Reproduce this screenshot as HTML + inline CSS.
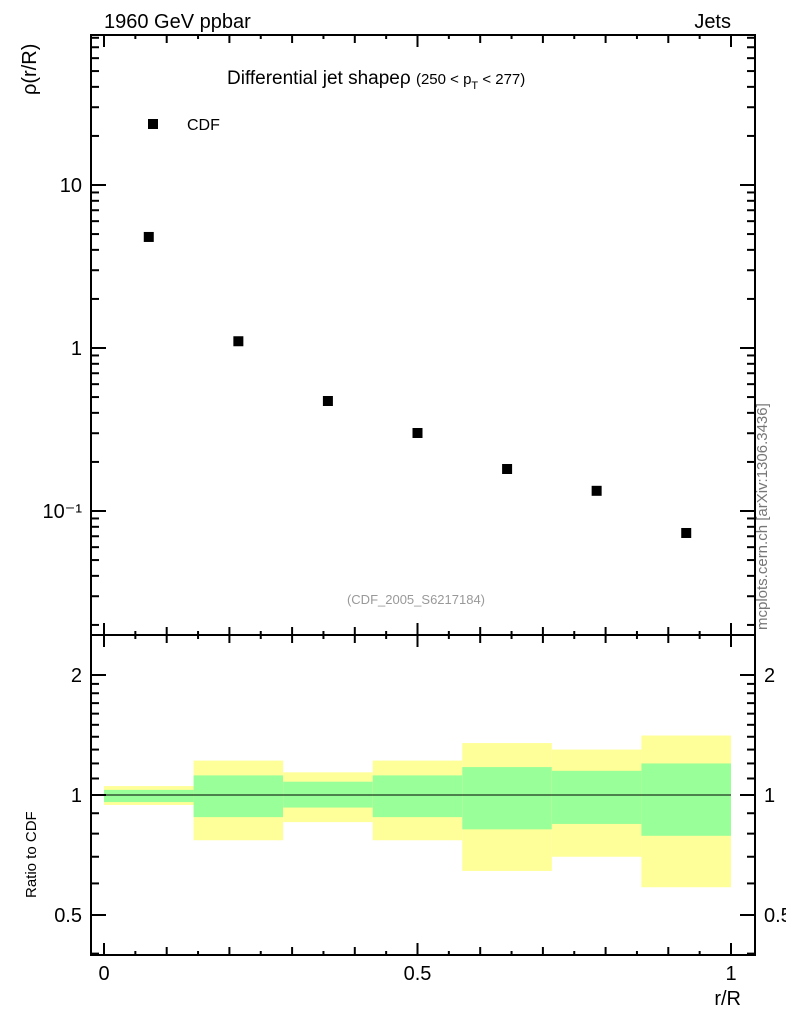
<!DOCTYPE html>
<html><head><meta charset="utf-8"><style>
body{margin:0;background:#fff;}
svg text{font-family:"Liberation Sans",sans-serif;}
</style></head><body>
<svg id="c" width="786" height="1024" xmlns="http://www.w3.org/2000/svg">
<text x="104" y="28" font-size="20">1960 GeV ppbar</text>
<text x="731" y="28" font-size="20" text-anchor="end">Jets</text>
<text x="227" y="84" font-size="19">Differential jet shapeρ <tspan font-size="15">(250 &lt; p</tspan><tspan font-size="11" dy="5">T</tspan><tspan font-size="15" dy="-5"> &lt; 277)</tspan></text>
<text x="416" y="604" font-size="13" fill="#999" text-anchor="middle">(CDF_2005_S6217184)</text>
<text transform="translate(767,630) rotate(-90)" font-size="15" fill="#777">mcplots.cern.ch [arXiv:1306.3436]</text>
<text transform="translate(36,95) rotate(-90)" font-size="20">ρ(r/R)</text>
<text transform="translate(36,898) rotate(-90)" font-size="15">Ratio to CDF</text>
<text x="741" y="1005" font-size="20" text-anchor="end">r/R</text>
<rect x="148" y="119" width="10" height="10" fill="#000"/>
<text x="187" y="130" font-size="16">CDF</text>
<g id="bands"></g><g id="pts"></g><g id="axes"></g>
</svg>
<script>
const xs=[0.0714,0.2143,0.3571,0.5,0.6429,0.7857,0.9286];
const rho=[4.8,1.10,0.473,0.301,0.181,0.133,0.0733];
const binEdges=[0,0.1429,0.2857,0.4286,0.5714,0.7143,0.8571,1];
const yelHi=[1.053,1.22,1.14,1.22,1.35,1.30,1.41];
const yelLo=[0.944,0.77,0.855,0.77,0.645,0.70,0.587];
const grnHi=[1.03,1.12,1.08,1.12,1.175,1.15,1.20];
const grnLo=[0.96,0.88,0.93,0.88,0.82,0.846,0.79];
const mainTicks=["10\u207B\u00B9","1","10"];
const ratioTicks=["0.5","1","2"];
const xTicks=["0","0.5","1"];
const NS="http://www.w3.org/2000/svg";
const X=v=>104+v*627;
const Y=v=>185-(Math.log10(v)-1)*163;
const R=v=>795-Math.log10(v)*398.6;
function mk(p,t,a){const e=document.createElementNS(NS,t);for(const k in a)e.setAttribute(k,a[k]);document.getElementById(p).appendChild(e);return e;}
for(let i=0;i<xs.length;i++){
 let e=mk('bands','rect',{x:X(binEdges[i]),y:R(yelHi[i]),width:X(binEdges[i+1])-X(binEdges[i]),height:R(yelLo[i])-R(yelHi[i]),fill:'#ffff99'});
 
 
 e=mk('bands','rect',{x:X(binEdges[i]),y:R(grnHi[i]),width:X(binEdges[i+1])-X(binEdges[i]),height:R(grnLo[i])-R(grnHi[i]),fill:'#99ff99'});
 
 
 e=mk('pts','rect',{x:X(xs[i])-5,y:Y(rho[i])-5,width:10,height:10,fill:'#000'});
 
 
}
let l=mk('axes','line',{x1:104,x2:731,y1:R(1),y2:R(1),stroke:'#000','stroke-width':1});


const fr=[[35,635],[635,955]];
fr.forEach(f=>{const e=mk('axes','rect',{x:91,y:f[0],width:664,height:f[1]-f[0],fill:'none',stroke:'#000','stroke-width':2});
 
 });
function ln(x1,y1,x2,y2){mk('axes','line',{x1,y1,x2,y2,stroke:'#000','stroke-width':2});}
function tx(x,y,s,anc,fs){const e=mk('axes','text',{x,y,'font-size':fs||20,'text-anchor':anc});e.textContent=s;
 
 }
// main y ticks
for(let d=-2;d<=1;d++)for(let m=1;m<10;m++){const v=m*Math.pow(10,d);const y=Y(v);if(y<35||y>635)continue;const L=m==1?15:8;ln(91,y,91+L,y);ln(755,y,755-L,y);}
[0.1,1,10].forEach((v,i)=>tx(82,Y(v)+7,mainTicks[i],'end'));
// ratio y ticks
[0.4,0.5,0.6,0.7,0.8,0.9,1,2].forEach(v=>{const y=R(v);if(y<635||y>955)return;const L=(v==0.5||v==1||v==2)?15:8;ln(91,y,91+L,y);ln(755,y,755-L,y);});
for(let v=1.1;v<2;v+=0.1){const y=R(v);ln(91,y,99,y);ln(755,y,747,y);}
[0.5,1,2].forEach((v,i)=>{tx(82,R(v)+7,ratioTicks[i],'end');tx(764,R(v)+7,ratioTicks[i],'start');});
// x ticks
for(let k=0;k<=20;k++){const v=k*0.05,x=X(v);const L=(k%10==0)?12:(k%2==0?8:4);
 ln(x,635,x,635-L);ln(x,635,x,635+L);ln(x,35,x,35+L);ln(x,955,x,955-L);}
[0,0.5,1].forEach((v,i)=>tx(X(v),980,xTicks[i],'middle'));
</script>
</body></html>
